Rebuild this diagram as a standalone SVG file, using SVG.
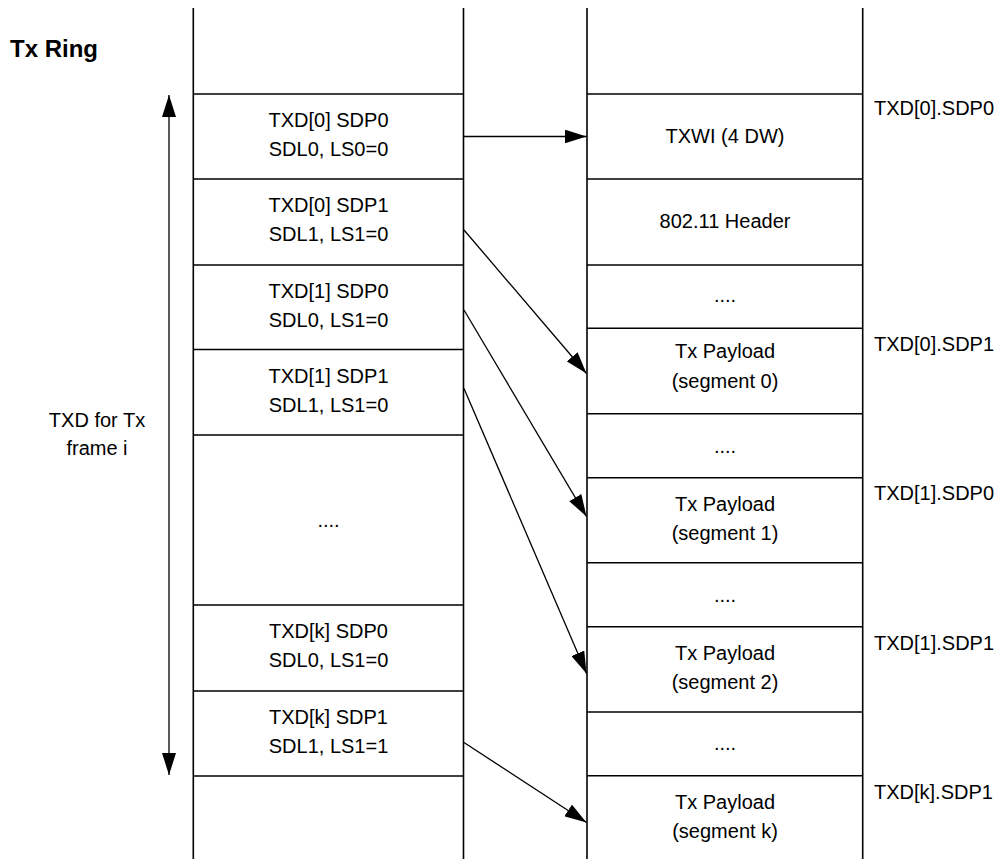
<svg xmlns="http://www.w3.org/2000/svg" width="998" height="859" viewBox="0 0 998 859">
<style>
  .bg { fill: #ffffff; }
  .col { stroke: #000; stroke-width: 1.6; fill: none; }
  .row { stroke: #000; stroke-width: 1.4; fill: none; }
  .conn { stroke: #000; stroke-width: 1.3; fill: none; }
  .t { font-family: "Liberation Sans", Arial, sans-serif; font-size: 20px; fill: #000; }
  .c { text-anchor: middle; }
  .title { font-family: "Liberation Sans", Arial, sans-serif; font-size: 24px; font-weight: bold; fill: #000; }
</style>
<defs>
  <marker id="ah" markerUnits="userSpaceOnUse" markerWidth="23" markerHeight="14" refX="22" refY="7" orient="auto">
    <path d="M0,0 L22,7 L0,14 Z" fill="#000"/>
  </marker>
  <marker id="ahs" markerUnits="userSpaceOnUse" markerWidth="23" markerHeight="14" refX="22" refY="7" orient="auto-start-reverse">
    <path d="M0,0 L22,7 L0,14 Z" fill="#000"/>
  </marker>
</defs>
<rect class="bg" x="0" y="0" width="998" height="859"/>

<text id="title" class="title" x="10" y="57">Tx Ring</text>

<g id="txd-ring">
  <line class="col" x1="193.3" y1="8" x2="193.3" y2="859"/>
  <line class="col" x1="463.5" y1="8" x2="463.5" y2="859"/>
  <line class="row" x1="193" y1="94" x2="464" y2="94"/>
  <line class="row" x1="193" y1="179" x2="464" y2="179"/>
  <line class="row" x1="193" y1="265" x2="464" y2="265"/>
  <line class="row" x1="193" y1="349.5" x2="464" y2="349.5"/>
  <line class="row" x1="193" y1="435" x2="464" y2="435"/>
  <line class="row" x1="193" y1="605" x2="464" y2="605"/>
  <line class="row" x1="193" y1="691" x2="464" y2="691"/>
  <line class="row" x1="193" y1="776" x2="464" y2="776"/>
</g>

<g id="txd0-sdp0"><text class="t c" x="328.5" y="127">TXD[0] SDP0</text><text class="t c" x="328.5" y="156">SDL0, LS0=0</text></g>
<g id="txd0-sdp1"><text class="t c" x="328.5" y="212">TXD[0] SDP1</text><text class="t c" x="328.5" y="241">SDL1, LS1=0</text></g>
<g id="txd1-sdp0"><text class="t c" x="328.5" y="298">TXD[1] SDP0</text><text class="t c" x="328.5" y="327">SDL0, LS1=0</text></g>
<g id="txd1-sdp1"><text class="t c" x="328.5" y="383">TXD[1] SDP1</text><text class="t c" x="328.5" y="412">SDL1, LS1=0</text></g>
<g id="txd-dots"><text class="t c" x="328.5" y="527">....</text></g>
<g id="txdk-sdp0"><text class="t c" x="328.5" y="638">TXD[k] SDP0</text><text class="t c" x="328.5" y="667">SDL0, LS1=0</text></g>
<g id="txdk-sdp1"><text class="t c" x="328.5" y="724">TXD[k] SDP1</text><text class="t c" x="328.5" y="753">SDL1, LS1=1</text></g>

<g id="frame-label"><text class="t c" x="97" y="427">TXD for Tx</text><text class="t c" x="97" y="455">frame i</text></g>

<g id="buffer">
  <line class="col" x1="587" y1="8" x2="587" y2="859"/>
  <line class="col" x1="862.7" y1="8" x2="862.7" y2="859"/>
  <line class="row" x1="587" y1="94" x2="863" y2="94"/>
  <line class="row" x1="587" y1="179" x2="863" y2="179"/>
  <line class="row" x1="587" y1="265" x2="863" y2="265"/>
  <line class="row" x1="587" y1="328.3" x2="863" y2="328.3"/>
  <line class="row" x1="587" y1="413.7" x2="863" y2="413.7"/>
  <line class="row" x1="587" y1="477.7" x2="863" y2="477.7"/>
  <line class="row" x1="587" y1="562.7" x2="863" y2="562.7"/>
  <line class="row" x1="587" y1="626.7" x2="863" y2="626.7"/>
  <line class="row" x1="587" y1="712" x2="863" y2="712"/>
  <line class="row" x1="587" y1="775.7" x2="863" y2="775.7"/>
</g>

<g id="txwi"><text class="t c" x="725" y="143">TXWI (4 DW)</text></g>
<g id="header"><text class="t c" x="725" y="228">802.11 Header</text></g>
<g id="dots1"><text class="t c" x="725" y="302">....</text></g>
<g id="seg0"><text class="t c" x="725" y="358">Tx Payload</text><text class="t c" x="725" y="388">(segment 0)</text></g>
<g id="dots2"><text class="t c" x="725" y="453">....</text></g>
<g id="seg1"><text class="t c" x="725" y="511">Tx Payload</text><text class="t c" x="725" y="540">(segment 1)</text></g>
<g id="dots3"><text class="t c" x="725" y="602">....</text></g>
<g id="seg2"><text class="t c" x="725" y="660">Tx Payload</text><text class="t c" x="725" y="689">(segment 2)</text></g>
<g id="dots4"><text class="t c" x="725" y="750">....</text></g>
<g id="segk"><text class="t c" x="725" y="809">Tx Payload</text><text class="t c" x="725" y="838">(segment k)</text></g>

<g id="ptr-labels">
  <text class="t" x="874" y="115">TXD[0].SDP0</text>
  <text class="t" x="874" y="351">TXD[0].SDP1</text>
  <text class="t" x="874" y="500">TXD[1].SDP0</text>
  <text class="t" x="874" y="650">TXD[1].SDP1</text>
  <text class="t" x="874" y="799">TXD[k].SDP1</text>
</g>

<g id="connectors">
  <line class="conn" x1="169" y1="95" x2="169" y2="775" marker-start="url(#ahs)" marker-end="url(#ah)"/>
  <line class="conn" x1="464" y1="136.5" x2="586.5" y2="136.5" marker-end="url(#ah)"/>
  <line class="conn" x1="464" y1="230" x2="586.5" y2="373.5" marker-end="url(#ah)"/>
  <line class="conn" x1="464" y1="310" x2="586.5" y2="516.5" marker-end="url(#ah)"/>
  <line class="conn" x1="464" y1="388.5" x2="586.5" y2="673.5" marker-end="url(#ah)"/>
  <line class="conn" x1="464" y1="742.5" x2="586.5" y2="822.5" marker-end="url(#ah)"/>
</g>
</svg>
